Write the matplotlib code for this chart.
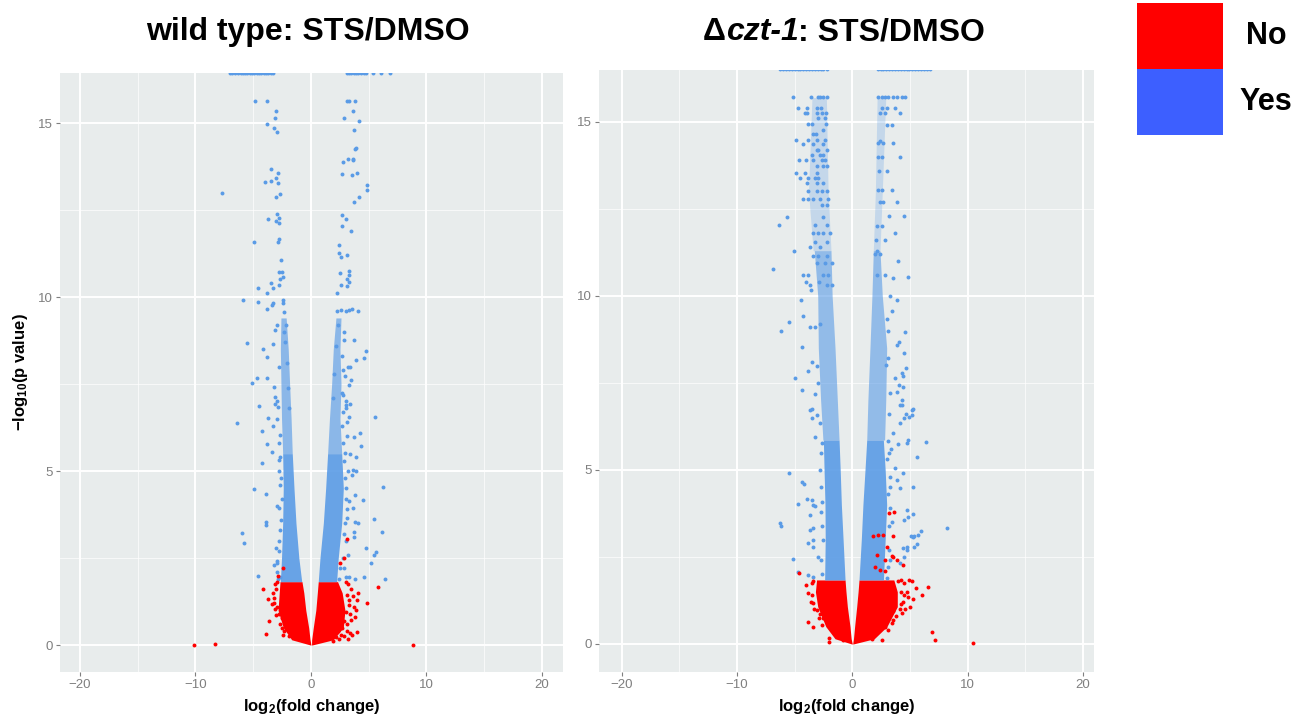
import numpy as np
import matplotlib
matplotlib.use("Agg")
import matplotlib.pyplot as plt
from matplotlib.patches import Rectangle
from matplotlib.offsetbox import TextArea, HPacker, AnchoredOffsetbox

plt.rcParams['font.family'] = ['Liberation Sans', 'DejaVu Sans']
plt.rcParams['mathtext.fontset'] = 'custom'
plt.rcParams['mathtext.bf'] = 'Liberation Sans:bold'
plt.rcParams['mathtext.rm'] = 'Liberation Sans:bold'
plt.rcParams['mathtext.default'] = 'bf'

# colours
col_yes = '#5a9be6'
col_no = '#ff0000'
leg_yes = '#3d5fff'
leg_no = '#ff0000'
panel_bg = '#e8ecec'

legend_labels = ['No', 'Yes']
x_ticks = [-20, -10, 0, 10, 20]
x_minor = [-15, -5, 5, 15]
y_ticks = [0, 5, 10, 15]
y_minor = [2.5, 7.5, 12.5]

# ---------------- wild type ----------------
# dense cores (read as envelopes: y level, inner / outer x)
wt_yes_core_y = [1.82, 2.5, 3.5, 4.5, 5.5]
wt_yes_left_out = [-2.65, -2.55, -2.45, -2.4, -2.45]
wt_yes_left_in = [-0.8, -1.05, -1.3, -1.47, -1.62]
wt_yes_right_in = [0.63, 0.78, 1.07, 1.27, 1.44]
wt_yes_right_out = [2.22, 2.36, 2.66, 2.8, 2.66]

wt_yes_mid_y = [5.5, 6.5, 7.5, 8.5, 9.4]
wt_yes_mid_left_out = [-2.45, -2.55, -2.6, -2.65, -2.6]
wt_yes_mid_left_in = [-1.62, -1.72, -1.85, -1.97, -2.15]
wt_yes_mid_right_in = [1.44, 1.6, 1.79, 1.93, 2.16]
wt_yes_mid_right_out = [2.66, 2.51, 2.6, 2.51, 2.6]

wt_no_core_y = [0.0, 0.15, 0.5, 1.0, 1.5, 1.82]
wt_no_left_out = [-0.05, -1.67, -2.4, -2.85, -2.75, -2.68]
wt_no_left_in = [0.0, -0.08, -0.2, -0.45, -0.62, -0.78]
wt_no_right_in = [0.05, 0.06, 0.2, 0.42, 0.55, 0.63]
wt_no_right_out = [0.1, 1.93, 2.8, 2.94, 2.7, 2.3]

wt_cap_y = 16.45
wt_cap_x = [-7.0, -6.8, -6.55, -6.3, -6.1, -5.9, -5.7, -5.5, -5.3, -5.1, -4.9,
            -4.7, -4.5, -4.3, -4.1, -3.9, -3.7, -3.5, -3.3,
            3.1, 3.3, 3.5, 3.7, 3.9, 4.1, 4.3, 4.55, 4.8, 5.4, 6.1, 6.85]

wt_yes_pts = [
    (-4.85, 15.64), (-3.84, 15.64), (-3.03, 15.34), (-3.12, 15.16), (-3.84, 14.96),
    (-3.2, 14.87), (-2.92, 14.75), (-3.46, 13.68), (-2.83, 13.58), (-3.03, 13.41),
    (-3.46, 13.34), (-3.98, 13.3), (-2.88, 13.29), (-2.68, 12.95), (-3.03, 12.88),
    (-7.7, 13.0), (-2.92, 12.4), (-2.74, 12.26), (-3.7, 12.23), (-3.03, 12.19),
    (-2.74, 12.14), (-2.74, 11.68), (-2.83, 11.57), (-4.9, 11.57), (-2.62, 11.06),
    (-2.74, 10.73), (-2.54, 10.72), (-2.4, 10.57), (-2.68, 10.51), (-3.46, 10.41),
    (-2.74, 10.34), (-3.26, 10.27), (-4.56, 10.25), (-3.84, 10.11), (-5.91, 9.91),
    (-4.56, 9.87), (-2.45, 9.91), (-2.45, 9.84), (-3.32, 9.84), (-3.4, 9.77),
    (-3.84, 9.67), (-2.34, 9.58), (-3.12, 9.05), (-5.51, 8.67), (-4.13, 8.5),
    (-3.84, 8.29), (-3.32, 8.65), (-5.13, 7.52), (-4.65, 7.66), (-3.84, 7.68),
    (-3.18, 7.42), (-3.12, 7.14), (-3.12, 6.93), (-4.48, 6.87), (-2.83, 6.85),
    (-3.7, 6.51), (-6.43, 6.37), (-3.26, 6.3), (-4.27, 6.15), (-2.68, 6.03),
    (-3.84, 5.77), (-3.4, 5.56), (-4.27, 5.24), (-2.74, 5.32), (-4.91, 4.47),
    (-3.92, 4.34), (-2.74, 3.93), (-3.9, 3.53), (-3.9, 3.45), (-6.0, 3.21),
    (-5.77, 2.92), (-2.97, 2.35), (-3.18, 2.3), (-4.56, 1.98), (-2.68, 1.96),
    (-2.9, 9.2), (-2.3, 9.0), (-2.8, 8.0), (-2.9, 7.0), (-2.9, 6.5), (-2.8, 5.0),
    (-2.7, 4.6), (-2.9, 4.0), (-2.8, 3.0), (-3.0, 2.8), (-2.9, 2.1),
    (-2.85, 1.9), (-2.95, 2.4), (-2.75, 2.7), (-2.7, 3.3), (-2.6, 3.6),
    (-2.55, 4.2), (-2.6, 4.8), (-2.65, 5.4), (-2.75, 5.8), (-2.2, 9.2),
    (-2.25, 8.7), (-2.1, 8.1), (-2.0, 7.4), (-1.9, 6.8),
    (3.1, 15.64), (3.3, 15.64), (3.81, 15.64), (3.61, 15.34), (2.88, 15.16),
    (4.16, 15.06), (3.72, 14.8), (3.81, 14.25), (3.9, 14.29), (3.18, 13.97),
    (3.66, 13.98), (3.66, 13.94), (2.74, 13.88), (2.66, 13.55), (3.58, 13.52),
    (4.01, 13.58), (4.82, 13.22), (4.88, 13.07), (4.16, 12.88), (3.72, 12.72),
    (2.66, 12.36), (3.03, 12.24), (2.66, 12.05), (3.46, 11.9), (2.45, 11.51),
    (2.45, 11.26), (3.09, 11.21), (2.6, 11.16), (2.51, 10.68), (3.29, 10.76),
    (3.32, 10.63), (3.09, 10.51), (2.6, 10.36), (3.32, 10.42), (3.09, 10.32),
    (2.28, 10.12), (2.22, 9.6), (2.6, 9.62), (3.03, 9.6), (3.32, 9.63),
    (3.52, 9.65), (4.07, 9.6), (2.88, 8.76), (3.72, 8.78), (4.76, 8.46),
    (4.59, 8.26), (3.9, 8.19), (3.23, 8.0), (3.38, 7.98), (2.8, 7.9),
    (2.94, 7.73), (3.43, 7.61), (3.29, 7.47), (2.71, 7.25), (2.8, 7.18),
    (3.03, 6.9), (3.38, 6.93), (3.03, 6.8), (3.32, 6.56), (3.14, 6.42),
    (5.51, 6.54), (4.24, 6.08), (3.75, 5.97), (4.36, 5.73), (2.94, 5.53),
    (3.38, 5.49), (3.87, 5.41), (3.66, 5.03), (3.9, 5.01), (3.52, 4.89),
    (6.2, 4.53), (3.81, 4.31), (4.47, 4.17), (3.32, 4.15), (3.66, 3.93),
    (3.14, 3.64), (3.81, 3.54), (4.1, 3.52), (5.48, 3.61), (6.17, 3.26),
    (3.75, 3.26), (3.72, 3.11), (4.76, 2.78), (5.6, 2.68), (5.45, 2.59),
    (5.19, 2.35), (3.32, 1.96), (3.81, 1.91), (4.62, 1.95), (6.41, 1.91),
    (2.9, 9.0), (2.7, 8.3), (3.0, 7.0), (3.1, 6.0), (3.2, 5.0), (3.0, 4.5),
    (3.1, 3.9), (3.0, 3.0), (3.2, 2.6), (2.9, 2.2), (3.0, 1.95),
    (2.4, 1.9), (2.55, 2.2), (2.75, 2.5), (2.85, 3.2), (2.95, 3.5),
    (3.0, 4.2), (2.95, 4.8), (2.85, 5.3), (2.75, 5.8), (2.7, 6.3), (2.75, 6.7),
    (2.3, 9.2), (2.15, 8.6), (2.0, 7.8), (1.9, 7.1),
]

wt_no_pts = [
    (-2.4, 2.2), (-2.83, 1.98), (3.09, 3.06), (2.88, 2.51), (2.51, 2.35),
    (-4.13, 1.6), (-3.61, 0.7), (-3.92, 0.32), (-2.54, 0.48), (-2.45, 0.29),
    (5.83, 1.68), (4.82, 1.22), (3.96, 0.38), (3.52, 0.29), (3.23, 0.16),
    (-10.1, 0.0), (-8.3, 0.02), (8.8, 0.0), (-3.1, 1.75), (-3.3, 1.5),
    (-3.2, 1.2), (3.2, 1.75), (3.5, 1.6), (3.6, 1.4), (3.3, 1.15), (4.1, 1.5),
    (4.0, 1.3), (-3.7, 1.31), (-3.4, 1.17), (-3.1, 1.03), (-2.8, 0.9),
    (-2.5, 0.77), (-2.2, 0.64), (-1.9, 0.5), (-1.6, 0.38), (-1.24, 0.24),
    (1.9, 0.32), (2.3, 0.4), (2.7, 0.5), (3.1, 0.6), (3.5, 0.72), (3.81, 0.81),
    (1.9, 0.12), (2.4, 0.17), (2.9, 0.25), (3.38, 0.34),
    (-3.0, 1.6), (-3.2, 1.35), (-2.95, 1.1), (-3.05, 0.85), (-2.7, 0.6),
    (-2.3, 0.4), (-1.9, 0.25), (-2.9, 1.8), (3.0, 1.8), (3.1, 1.45),
    (3.25, 1.3), (3.0, 0.95), (3.4, 0.9), (2.9, 0.7), (3.1, 0.4), (2.6, 0.3),
    (2.2, 0.22), (3.7, 1.1), (3.9, 1.0),
]

# ---------------- delta czt-1 ----------------
dz_yes_core_y = [1.84, 3.0, 4.0, 5.0, 5.86]
dz_yes_left_out = [-2.4, -2.35, -2.37, -2.45, -2.51]
dz_yes_left_in = [-0.63, -0.8, -0.95, -1.05, -1.15]
dz_yes_right_in = [0.58, 0.78, 0.92, 1.1, 1.25]
dz_yes_right_out = [2.7, 2.85, 2.98, 2.85, 2.69]

dz_yes_mid_y = [5.86, 7.0, 8.5, 10.0, 11.3]
dz_yes_mid_left_out = [-2.55, -2.75, -2.95, -3.0, -3.3]
dz_yes_mid_left_in = [-1.15, -1.3, -1.5, -1.75, -1.85]
dz_yes_mid_right_in = [1.25, 1.35, 1.53, 1.7, 1.82]
dz_yes_mid_right_out = [2.8, 2.9, 2.98, 2.6, 2.4]

dz_yes_top_y = [11.3, 13.0, 15.7]
dz_yes_top_left_out = [-3.4, -3.8, -3.5]
dz_yes_top_left_in = [-1.85, -2.1, -2.25]
dz_yes_top_right_in = [1.82, 2.0, 2.15]
dz_yes_top_right_out = [2.4, 2.6, 2.9]

dz_no_core_y = [0.0, 0.15, 0.5, 1.07, 1.5, 1.84]
dz_no_left_out = [-0.05, -1.5, -2.3, -3.0, -3.2, -3.1]
dz_no_left_in = [0.0, -0.1, -0.2, -0.43, -0.55, -0.63]
dz_no_right_in = [0.03, 0.1, 0.2, 0.38, 0.5, 0.58]
dz_no_right_out = [0.08, 1.9, 3.0, 3.9, 3.9, 3.6]

dz_cap_y = 16.52
dz_cap_x = [-6.27, -6.0, -5.75, -5.5, -5.25, -5.0, -4.75, -4.5, -4.25, -4.0,
            -3.75, -3.5, -3.25, -3.0, -2.75, -2.5, -2.22,
            2.2, 2.45, 2.7, 2.95, 3.2, 3.45, 3.7, 3.95, 4.2, 4.45, 4.7, 4.95,
            5.2, 5.45, 5.7, 5.95, 6.2, 6.45, 6.7]

dz_yes_pts = [
    (-5.12, 15.71), (-3.61, 15.71), (-2.95, 15.71), (-2.8, 15.71), (-2.51, 15.71), (-2.22, 15.71),
    (-4.68, 15.41), (-3.95, 15.41), (-3.03, 15.41), (-2.74, 15.41),
    (-4.1, 15.25), (-3.95, 15.25), (-3.09, 15.25), (-2.66, 15.25), (-2.31, 15.25),
    (-2.95, 15.1), (-2.37, 15.1), (-3.81, 14.94), (-3.52, 14.94), (-2.28, 14.94),
    (-2.51, 14.78), (-3.44, 14.65), (-3.15, 14.65),
    (-4.88, 14.48), (-3.81, 14.48), (-3.09, 14.48), (-2.37, 14.48),
    (-4.25, 14.37), (-3.38, 14.37), (-2.51, 14.37), (-3.09, 14.2), (-2.95, 14.2), (-2.22, 14.2),
    (-3.52, 14.05), (-2.8, 14.05), (-2.51, 14.05),
    (-4.6, 13.91), (-4.02, 13.91), (-3.38, 13.91), (-2.66, 13.91), (-2.37, 13.91),
    (-3.09, 13.72), (-2.51, 13.72), (-2.22, 13.72), (-4.88, 13.52), (-4.1, 13.52), (-3.09, 13.52),
    (-4.54, 13.38), (-3.81, 13.38), (-3.23, 13.38), (-2.95, 13.38),
    (-3.95, 13.23), (-3.09, 13.23), (-2.51, 13.23),
    (-3.81, 13.0), (-3.09, 13.0), (-2.66, 13.0), (-2.22, 13.0),
    (-4.25, 12.77), (-3.81, 12.77), (-3.38, 12.77), (-2.8, 12.77), (-2.08, 12.77),
    (-2.66, 12.62), (-2.22, 12.62), (-5.69, 12.28), (-2.51, 12.28),
    (-6.33, 12.04), (-3.23, 12.04), (-2.22, 12.04),
    (-3.38, 11.8), (-2.95, 11.8), (-2.51, 11.8), (-1.93, 11.8), (-3.23, 11.56), (-2.22, 11.56),
    (-3.67, 11.4), (-2.8, 11.4), (-5.06, 11.28), (-3.38, 11.14), (-2.95, 11.14), (-2.22, 11.14),
    (-3.09, 10.95), (-2.37, 10.95), (-1.79, 10.95), (-6.85, 10.77),
    (-4.25, 10.6), (-3.81, 10.6), (-2.51, 10.6), (-2.08, 10.6),
    (-3.67, 10.3), (-2.22, 10.3), (-1.79, 10.3),
    (-4.02, 10.39), (-3.58, 10.17), (-4.45, 9.89), (-5.49, 9.26), (-6.21, 9.0),
    (-4.25, 9.41), (-3.67, 9.12), (-3.23, 9.12), (-2.8, 9.2), (-4.34, 8.53),
    (-3.52, 8.11), (-3.81, 7.83), (-4.97, 7.63), (-4.39, 7.3), (-3.23, 7.18),
    (-3.67, 6.72), (-3.52, 6.49), (-3.23, 5.96), (-2.66, 5.78),
    (-3.52, 6.74), (-3.09, 6.58), (-2.8, 6.34), (-6.27, 3.47), (-6.18, 3.39),
    (-5.46, 4.9), (-4.34, 4.64), (-4.2, 4.6), (-4.68, 4.01), (-5.12, 2.43),
    (-4.68, 2.07), (-3.9, 4.16), (-3.52, 4.14), (-3.23, 3.95), (-3.67, 3.71),
    (-3.38, 3.32), (-3.81, 2.89), (-3.38, 2.8), (-2.95, 2.51), (-2.66, 4.09),
    (-3.38, 4.0), (-3.67, 3.28), (-3.38, 3.0), (-3.81, 1.98), (-3.38, 1.93),
    (-2.6, 2.0), (-2.7, 2.4), (-2.55, 3.0), (-2.6, 3.4), (-2.75, 3.8),
    (-2.7, 4.5), (-2.8, 5.0), (-2.75, 5.5), (-3.1, 8.0), (-3.0, 7.5), (-2.9, 10.4),
    (2.2, 15.71), (2.55, 15.71), (2.84, 15.71), (3.12, 15.71), (3.5, 15.71), (3.9, 15.71),
    (4.3, 15.71), (4.6, 15.71), (2.55, 15.4), (2.98, 15.4), (3.7, 15.4),
    (2.4, 15.25), (2.84, 15.25), (4.1, 15.25), (2.98, 14.9), (3.4, 14.9),
    (2.26, 14.4), (2.4, 14.45), (2.69, 14.4), (3.5, 14.4), (2.26, 14.0), (2.55, 14.0), (4.1, 14.0),
    (2.35, 13.6), (3.0, 13.6), (2.26, 13.05), (2.55, 13.05), (3.4, 13.05),
    (2.4, 12.7), (2.69, 12.7), (3.9, 12.7), (4.5, 12.3), (3.2, 12.3),
    (2.11, 12.0), (2.55, 12.0), (3.7, 11.8), (2.05, 11.6), (2.84, 11.6),
    (1.97, 11.2), (2.4, 11.2), (2.1, 11.3), (4.0, 11.0), (2.11, 10.6), (2.84, 10.6),
    (4.8, 10.55), (3.5, 10.5),
    (3.27, 10.0), (3.85, 9.89), (3.42, 9.57), (2.98, 9.33), (4.57, 8.97),
    (4.08, 8.69), (3.85, 8.59), (4.48, 8.35), (3.12, 8.21), (2.92, 8.02),
    (4.66, 7.92), (3.7, 7.63), (4.28, 7.78), (4.37, 7.7), (4.08, 7.44),
    (4.42, 7.39), (3.85, 7.25), (4.28, 7.01), (4.14, 6.87), (5.2, 6.72),
    (4.63, 6.61), (4.51, 6.49), (4.14, 6.34), (4.86, 5.86), (3.56, 6.05),
    (3.07, 5.83), (3.94, 5.74), (6.39, 5.79), (5.64, 5.38), (4.72, 5.77),
    (5.18, 6.58), (4.94, 6.53), (4.31, 6.87), (5.29, 6.74), (8.24, 3.32),
    (5.29, 4.52), (4.86, 3.66), (5.29, 3.08), (5.72, 3.13), (5.59, 2.87),
    (4.72, 2.78), (4.48, 2.51), (4.14, 2.34), (3.7, 5.05), (4.42, 4.9),
    (3.85, 4.71), (4.14, 4.47), (4.72, 3.85), (5.24, 3.74), (4.48, 3.56),
    (5.93, 3.26), (5.35, 3.11), (5.06, 3.11), (5.38, 2.8), (4.42, 2.75),
    (4.72, 2.7), (3.3, 4.5), (3.4, 3.5), (3.2, 5.5), (3.3, 2.4),
    (3.0, 1.9), (3.1, 2.2), (3.2, 2.7), (3.15, 3.4), (3.3, 3.9), (3.1, 4.3),
    (3.25, 4.8), (3.05, 5.3), (3.35, 5.6), (3.2, 6.6), (3.3, 7.2), (3.1, 9.0),
]

dz_no_pts = [
    (-4.6, 2.03), (-3.87, 1.47), (-3.38, 1.17), (-3.81, 0.64), (-3.43, 0.5),
    (-2.0, 0.18), (-2.0, 0.05), (-3.5, 1.75), (-4.0, 1.7),
    (1.82, 3.1), (2.98, 2.8), (3.5, 3.1), (3.21, 3.77), (3.64, 3.8),
    (2.84, 2.41), (3.42, 2.53), (2.4, 2.13), (4.37, 2.27), (3.85, 2.4),
    (2.25, 3.13), (2.69, 3.13), (2.12, 2.56), (3.56, 2.51), (1.97, 2.22),
    (2.84, 2.1), (6.59, 1.65), (6.02, 1.41), (6.94, 0.33), (7.17, 0.12),
    (10.44, 0.02), (2.55, 0.12), (1.68, 0.13), (4.5, 1.75), (4.7, 1.5),
    (4.2, 1.85), (4.4, 1.2), (5.3, 1.3),
    (-3.09, 0.98), (-2.8, 0.87), (-2.5, 0.76), (-2.2, 0.64), (-1.9, 0.52),
    (-1.6, 0.41), (-1.3, 0.3), (-1.0, 0.19), (-0.78, 0.11),
    (1.5, 0.35), (2.2, 0.56), (2.9, 0.77), (3.5, 0.95), (4.2, 1.16), (4.86, 1.36),
    (2.0, 0.3), (2.8, 0.5), (3.5, 0.69), (4.3, 0.89), (5.0, 1.07),
    (-3.4, 1.8), (-3.5, 1.4), (-3.3, 1.0), (-2.9, 0.75), (-2.6, 0.55),
    (-3.6, 1.2), (4.0, 1.8), (4.2, 1.5), (4.5, 1.4), (4.1, 1.0), (3.8, 0.8),
    (3.4, 0.6), (3.1, 0.4), (4.6, 1.0), (5.2, 1.8), (5.5, 1.6), (4.9, 1.85),
]


def style_axes(ax, xlim, ylim):
    ax.set_facecolor(panel_bg)
    ax.set_xlim(*xlim)
    ax.set_ylim(*ylim)
    ax.set_xticks(x_ticks)
    ax.set_xticks(x_minor, minor=True)
    ax.set_yticks(y_ticks)
    ax.set_yticks(y_minor, minor=True)
    ax.grid(which='major', color='white', lw=1.4)
    ax.grid(which='minor', color='white', lw=0.6, alpha=0.8)
    ax.set_axisbelow(True)
    for s in ax.spines.values():
        s.set_visible(False)
    ax.tick_params(which='major', length=3, width=0.8, color='#7f7f7f',
                   labelcolor='#7f7f7f', labelsize=9.5, pad=2)
    ax.tick_params(which='minor', length=0)


def draw_core(ax, y, l_out, l_in, r_in, r_out, color, alpha=1.0):
    ax.fill_betweenx(y, l_out, l_in, color=color, lw=0, alpha=alpha, zorder=2)
    ax.fill_betweenx(y, r_in, r_out, color=color, lw=0, alpha=alpha, zorder=2)


def draw_pts(ax, pts, color):
    arr = np.array(pts).T
    ax.scatter(arr[0], arr[1], s=8, color=color, lw=0, zorder=3)


fig = plt.figure(figsize=(13.12, 7.21), dpi=100)

ax1 = fig.add_axes([0.04573, 0.06796, 0.38338, 0.83079])
style_axes(ax1, (-21.73, 21.82), (-0.776, 16.44))
draw_core(ax1, wt_no_core_y, wt_no_left_out, wt_no_left_in, wt_no_right_in, wt_no_right_out, col_no)
draw_core(ax1, wt_yes_core_y, wt_yes_left_out, wt_yes_left_in, wt_yes_right_in, wt_yes_right_out, col_yes, 0.9)
draw_core(ax1, wt_yes_mid_y, wt_yes_mid_left_out, wt_yes_mid_left_in, wt_yes_mid_right_in, wt_yes_mid_right_out, col_yes, 0.65)
draw_pts(ax1, wt_yes_pts, col_yes)
draw_pts(ax1, wt_no_pts, col_no)
ax1.scatter(wt_cap_x, [wt_cap_y] * len(wt_cap_x), s=8, color=col_yes, lw=0, zorder=3)
ax1.set_xlabel('log$_2$(fold change)', fontsize=12, fontweight='bold', labelpad=4)
ax1.set_ylabel('−log$_{10}$(p value)', fontsize=12, fontweight='bold', labelpad=6)

ax2 = fig.add_axes([0.45655, 0.06796, 0.37729, 0.83495])
style_axes(ax2, (-21.97, 20.96), (-0.805, 16.49))
draw_core(ax2, dz_no_core_y, dz_no_left_out, dz_no_left_in, dz_no_right_in, dz_no_right_out, col_no)
draw_core(ax2, dz_yes_core_y, dz_yes_left_out, dz_yes_left_in, dz_yes_right_in, dz_yes_right_out, col_yes, 0.9)
draw_core(ax2, dz_yes_mid_y, dz_yes_mid_left_out, dz_yes_mid_left_in, dz_yes_mid_right_in, dz_yes_mid_right_out, col_yes, 0.6)
draw_core(ax2, dz_yes_top_y, dz_yes_top_left_out, dz_yes_top_left_in, dz_yes_top_right_in, dz_yes_top_right_out, col_yes, 0.25)
draw_pts(ax2, dz_yes_pts, col_yes)
draw_pts(ax2, dz_no_pts, col_no)
ax2.scatter(dz_cap_x, [dz_cap_y] * len(dz_cap_x), s=8, color=col_yes, lw=0, zorder=3)
ax2.set_xlabel('log$_2$(fold change)', fontsize=12, fontweight='bold', labelpad=4)

# titles
fig.text(308 / 1312, 0.9556, 'wild type: STS/DMSO', fontsize=23, fontweight='bold',
         ha='center', va='center')
tp = dict(fontsize=23, fontweight='bold', color='black')
parts = [TextArea('Δ', textprops=tp),
         TextArea('czt-1', textprops=dict(tp, fontstyle='italic')),
         TextArea(': STS/DMSO', textprops=tp)]
box = HPacker(children=parts, align='baseline', pad=0, sep=0)
fig.add_artist(AnchoredOffsetbox(loc='center', child=box, frameon=False,
                                 bbox_to_anchor=(844 / 1312, 0.9556),
                                 bbox_transform=fig.transFigure, pad=0, borderpad=0))

# legend
for i, (lab, c) in enumerate(zip(legend_labels, [leg_no, leg_yes])):
    y0 = 1 - (69 + 66 * i) / 721
    fig.add_artist(Rectangle((1137 / 1312, y0), 86 / 1312, 66 / 721,
                             transform=fig.transFigure, color=c, lw=0))
    fig.text(1266 / 1312, y0 + 33 / 721, lab, fontsize=22, fontweight='bold',
             ha='center', va='center')

fig.savefig('out.png', dpi=100)
